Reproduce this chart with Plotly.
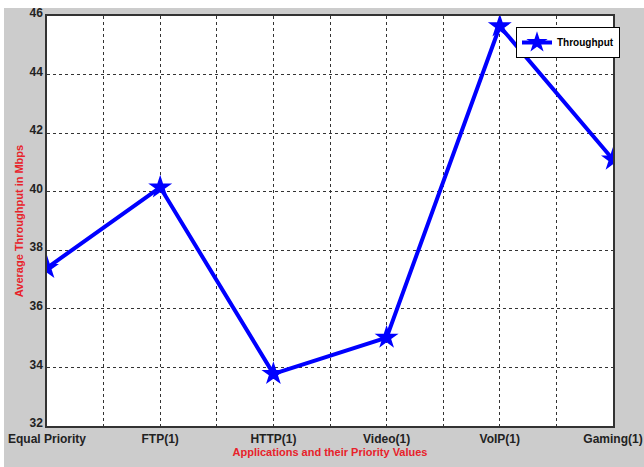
import plotly.graph_objects as go

categories = ["Equal Priority", "FTP(1)", "HTTP(1)", "Video(1)", "VoIP(1)", "Gaming(1)"]
throughput = [37.4, 40.15, 33.78, 35.02, 45.65, 41.1]
y_ticks = [32, 34, 36, 38, 40, 42, 44, 46]

xpos = list(range(len(categories)))
half_ticks = [i * 0.5 for i in range(2 * (len(categories) - 1) + 1)]
half_text = [categories[int(v)] if v == int(v) else "" for v in half_ticks]

FONT = "Liberation Sans Narrow, Arial Narrow, Liberation Sans, Arial"

fig = go.Figure()
fig.add_trace(go.Scatter(
    x=xpos, y=throughput, mode="lines+markers", name="Throughput",
    line=dict(color="#0000ff", width=4),
    marker=dict(symbol="star", size=18, color="#0000ff"),
))

L, R, T, B = 47, 31, 16, 41
W, H = 644, 467
pw, ph = W - L - R, H - T - B

fig.update_layout(
    width=W, height=H,
    margin=dict(l=L, r=R, t=T, b=B, autoexpand=False),
    paper_bgcolor="white", plot_bgcolor="white",
    font=dict(family=FONT, color="#222222"),
    showlegend=True,
    legend=dict(
        x=(516 - L) / pw, y=(H - B - 27) / ph, xanchor="left", yanchor="top",
        bgcolor="white", bordercolor="black", borderwidth=1,
        font=dict(family=FONT, size=10, color="black", weight="bold"),
        itemwidth=30, tracegroupgap=0,
    ),
    shapes=[
        dict(type="rect", xref="paper", yref="paper", layer="below",
             x0=(4 - L) / pw, x1=(W - L) / pw, y0=-B / ph, y1=(H - B - 8) / ph,
             fillcolor="#cccccc", line=dict(width=0)),
        dict(type="rect", xref="paper", yref="paper", layer="below",
             x0=0, x1=1, y0=0, y1=1, fillcolor="white", line=dict(width=0)),
    ],
)

fig.update_xaxes(
    range=[0, len(categories) - 1], automargin=False,
    tickmode="array", tickvals=half_ticks, ticktext=half_text,
    tickfont=dict(family=FONT, size=12, color="#222222", weight="bold"),
    showgrid=True, gridcolor="#333333", griddash="dot", gridwidth=1,
    showline=True, linecolor="#333333", linewidth=1.5, mirror=True,
    zeroline=False, ticks="", ticklabelstandoff=1, ticklabeloverflow="allow",
    title=dict(text="Applications and their Priority Values", standoff=2,
               font=dict(family=FONT, size=11, color="#e8222a", weight="bold")),
)
fig.update_yaxes(
    range=[32, 46], tickmode="array", tickvals=y_ticks, automargin=False,
    tickfont=dict(family=FONT, size=12, color="#222222", weight="bold"),
    showgrid=True, gridcolor="#333333", griddash="dot", gridwidth=1,
    showline=True, linecolor="#333333", linewidth=1.5, mirror=True,
    zeroline=False, ticks="", ticklabelshift=-3, ticklabeloverflow="allow",
    title=dict(text="Average Throughput in Mbps", standoff=4,
               font=dict(family=FONT, size=11, color="#e8222a", weight="bold")),
)

fig.write_html(
    "out.html",
    config={"displayModeBar": False},
    post_script="document.body.style.margin='0';document.body.style.overflow='hidden';",
)
